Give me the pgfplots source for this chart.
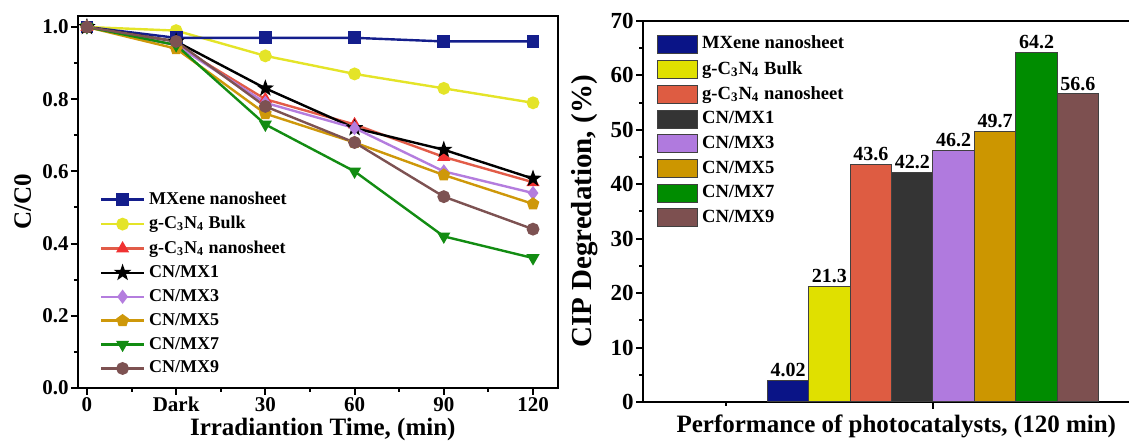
\documentclass[border=0pt]{standalone}
\usepackage{fontspec}
\setmainfont{Liberation Serif}
\usepackage{pgfplots}
\pgfplotsset{compat=1.18}
\usetikzlibrary{plotmarks}

\definecolor{lMX}{RGB}{20,30,140}
\definecolor{lBulk}{RGB}{228,228,40}
\definecolor{lNS}{RGB}{226,92,72}
\definecolor{mNS}{RGB}{240,50,50}
\definecolor{lMXone}{RGB}{0,0,0}
\definecolor{lMXthree}{RGB}{180,125,222}
\definecolor{lMXfive}{RGB}{206,152,10}
\definecolor{lMXseven}{RGB}{18,140,18}
\definecolor{lMXnine}{RGB}{125,82,82}

\definecolor{bMX}{RGB}{10,20,135}
\definecolor{bBulk}{RGB}{224,224,0}
\definecolor{bNS}{RGB}{222,92,66}
\definecolor{bMXone}{RGB}{52,52,52}
\definecolor{bMXthree}{RGB}{176,122,222}
\definecolor{bMXfive}{RGB}{204,150,0}
\definecolor{bMXseven}{RGB}{0,140,0}
\definecolor{bMXnine}{RGB}{125,80,80}

\pgfdeclareplotmark{fstar}{%
 \pgfpathmoveto{\pgfpointpolar{90}{1.05\pgfplotmarksize}}%
 \pgfpathlineto{\pgfpointpolar{126}{0.42\pgfplotmarksize}}%
 \pgfpathlineto{\pgfpointpolar{162}{1.05\pgfplotmarksize}}%
 \pgfpathlineto{\pgfpointpolar{198}{0.42\pgfplotmarksize}}%
 \pgfpathlineto{\pgfpointpolar{234}{1.05\pgfplotmarksize}}%
 \pgfpathlineto{\pgfpointpolar{270}{0.42\pgfplotmarksize}}%
 \pgfpathlineto{\pgfpointpolar{306}{1.05\pgfplotmarksize}}%
 \pgfpathlineto{\pgfpointpolar{342}{0.42\pgfplotmarksize}}%
 \pgfpathlineto{\pgfpointpolar{18}{1.05\pgfplotmarksize}}%
 \pgfpathlineto{\pgfpointpolar{54}{0.42\pgfplotmarksize}}%
 \pgfpathclose\pgfusepathqfillstroke}

\pgfplotsset{
 myax/.style={
  scale only axis,
  axis line style={line width=1.3pt},
  tick style={line width=1pt,black},
  tick align=outside, tick pos=left,
  major tick length=3.5pt, minor tick length=2pt,
  /pgf/number format/assume math mode=true,
  ticklabel style={font=\bfseries\fontsize{10.5}{12}\selectfont, inner sep=1pt},
  label style={font=\bfseries\fontsize{12.5}{14}\selectfont},
 },
 ln/.style={line width=1.2pt, mark size=2.6pt, mark options={solid}},
}

\begin{document}
\begin{tikzpicture}

% ---------------- left panel ----------------
\begin{axis}[myax,
 at={(39pt,27pt)}, anchor=south west, width=240pt, height=186pt,
 xmin=-0.1, xmax=5.28, ymin=0, ymax=1.0305,
 xtick={0,1,2,3,4,5}, xticklabels={0,Dark,30,60,90,120}, minor x tick num=1,
 ytick={0,0.2,0.4,0.6,0.8,1.0}, minor y tick num=1,
 yticklabel style={/pgf/number format/.cd, fixed, fixed zerofill, precision=1},
 ylabel={C/C0}, ylabel style={at={(axis description cs:-0.115,0.5)}, anchor=center},
 xlabel={Irradiantion Time, (min)}, xlabel style={at={(axis description cs:0.51,0)}, anchor=base, yshift=-24pt},
]
\addplot[ln, color=lBulk, mark=*] coordinates {(0,1.0) (1,0.99) (2,0.92) (3,0.87) (4,0.83) (5,0.79)};
\addplot[ln, color=lMX, mark=square*] coordinates {(0,1.0) (1,0.97) (2,0.97) (3,0.97) (4,0.96) (5,0.96)};
\addplot[ln, color=lNS, mark=triangle*, mark options={fill=mNS, draw=mNS}] coordinates {(0,1.0) (1,0.95) (2,0.80) (3,0.73) (4,0.64) (5,0.57)};
\addplot[ln, color=lMXone, mark=fstar] coordinates {(0,1.0) (1,0.96) (2,0.83) (3,0.72) (4,0.66) (5,0.58)};
\addplot[ln, color=lMXthree, mark=diamond*] coordinates {(0,1.0) (1,0.95) (2,0.79) (3,0.72) (4,0.60) (5,0.54)};
\addplot[ln, color=lMXfive, mark=pentagon*] coordinates {(0,1.0) (1,0.94) (2,0.76) (3,0.68) (4,0.59) (5,0.51)};
\addplot[ln, color=lMXseven, mark=triangle*, mark options={rotate=180}] coordinates {(0,1.0) (1,0.95) (2,0.73) (3,0.60) (4,0.42) (5,0.36)};
\addplot[ln, color=lMXnine, mark=*] coordinates {(0,1.0) (1,0.96) (2,0.78) (3,0.68) (4,0.53) (5,0.44)};
\end{axis}

% legend for the left panel, in the reference's order
\begin{axis}[myax,
 at={(39pt,27pt)}, anchor=south west, width=240pt, height=186pt,
 xmin=-0.1, xmax=5.28, ymin=0, ymax=1.0305,
 hide axis,
 legend style={at={(axis description cs:0.045,0.539)}, anchor=north west, draw=none, fill=none,
   font=\bfseries\fontsize{9}{10}\selectfont, inner sep=0pt, row sep=0.5pt,
   /tikz/every even column/.append style={column sep=1pt}},
 legend cell align=left,
 legend image code/.code={\draw[mark repeat=2,mark phase=2,#1] plot coordinates {(0pt,0pt) (10.7pt,0pt) (21.4pt,0pt)};},
]
\addlegendimage{ln, color=lMX, mark=square*}
\addlegendentry{MXene nanosheet}
\addlegendimage{ln, color=lBulk, mark=*}
\addlegendentry{g-C\textsubscript{3}N\textsubscript{4} Bulk}
\addlegendimage{ln, color=lNS, mark=triangle*, mark options={fill=mNS, draw=mNS}}
\addlegendentry{g-C\textsubscript{3}N\textsubscript{4} nanosheet}
\addlegendimage{ln, color=lMXone, mark=fstar}
\addlegendentry{CN/MX1}
\addlegendimage{ln, color=lMXthree, mark=diamond*}
\addlegendentry{CN/MX3}
\addlegendimage{ln, color=lMXfive, mark=pentagon*}
\addlegendentry{CN/MX5}
\addlegendimage{ln, color=lMXseven, mark=triangle*, mark options={rotate=180}}
\addlegendentry{CN/MX7}
\addlegendimage{ln, color=lMXnine, mark=*}
\addlegendentry{CN/MX9}
\end{axis}

% ---------------- right panel ----------------
\begin{axis}[myax,
 at={(321.5pt,20pt)}, anchor=south west, width=244pt, height=190.5pt,
 xmin=0.3, xmax=1.478, ymin=0, ymax=70,
 ybar=0pt, bar width=0.1,
 xtick={1}, xticklabels={}, minor xtick={0.5},
 ytick={0,10,20,30,40,50,60,70}, minor y tick num=1,
 ticklabel style={font=\bfseries\fontsize{11.5}{13}\selectfont},
 ylabel={CIP Degredation, (\%)}, ylabel style={at={(axis description cs:-0.119,0.5)}, anchor=center, font=\bfseries\fontsize{14.5}{16}\selectfont},
 xlabel={Performance of photocatalysts, (120 min)}, xlabel style={at={(axis description cs:0.519,0)}, anchor=base, yshift=-15.5pt},
 nodes near coords,
 nodes near coords style={font=\bfseries\fontsize{10}{12}\selectfont, inner sep=1.5pt, anchor=south, black},
 legend style={at={(axis description cs:0.028,0.972)}, anchor=north west, draw=none, fill=none,
   font=\bfseries\fontsize{9.3}{10.5}\selectfont, inner sep=0pt, row sep=0.65pt,
   /tikz/every even column/.append style={column sep=1pt}},
 legend cell align=left,
 legend image code/.code={\draw[#1, draw=black!75, line width=0.5pt] (0pt,-4.5pt) rectangle (20pt,4.5pt);},
]
\addplot[fill=bMX, draw=black!75, line width=0.5pt] coordinates {(1,4.02)};
\addplot[fill=bBulk, draw=black!75, line width=0.5pt] coordinates {(1,21.3)};
\addplot[fill=bNS, draw=black!75, line width=0.5pt] coordinates {(1,43.6)};
\addplot[fill=bMXone, draw=black!75, line width=0.5pt] coordinates {(1,42.2)};
\addplot[fill=bMXthree, draw=black!75, line width=0.5pt] coordinates {(1,46.2)};
\addplot[fill=bMXfive, draw=black!75, line width=0.5pt] coordinates {(1,49.7)};
\addplot[fill=bMXseven, draw=black!75, line width=0.5pt] coordinates {(1,64.2)};
\addplot[fill=bMXnine, draw=black!75, line width=0.5pt] coordinates {(1,56.6)};
\legend{MXene nanosheet, g-C\textsubscript{3}N\textsubscript{4} Bulk, g-C\textsubscript{3}N\textsubscript{4} nanosheet, CN/MX1, CN/MX3, CN/MX5, CN/MX7, CN/MX9}
\end{axis}

\pgfresetboundingbox
\useasboundingbox (0,0) rectangle (564.5pt,221pt);
\end{tikzpicture}
\end{document}
